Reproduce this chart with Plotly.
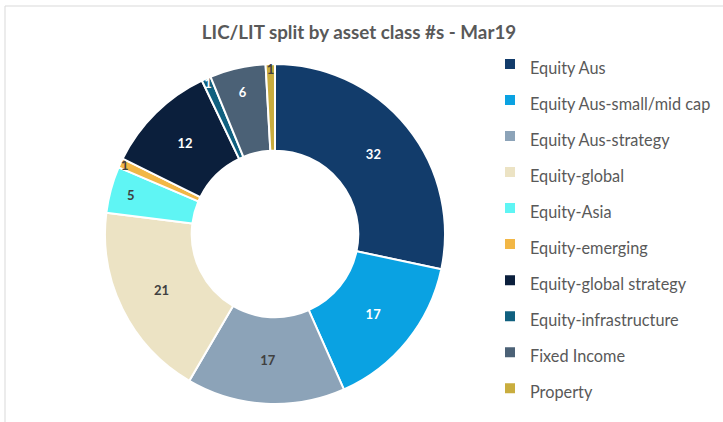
import plotly.graph_objects as go

labels = ["Equity Aus", "Equity Aus-small/mid cap", "Equity Aus-strategy", "Equity-global",
          "Equity-Asia", "Equity-emerging", "Equity-global strategy", "Equity-infrastructure",
          "Fixed Income", "Property"]
values = [32, 17, 17, 21, 5, 1, 12, 1, 6, 1]
colors = ["#123C6B", "#0AA2E2", "#8CA3B8", "#ECE3C4", "#5FF5F4", "#F2B746",
          "#0B1F3C", "#10607F", "#4B6176", "#C9AD3E"]
text_colors = ["#FFFFFF", "#FFFFFF", "#404040", "#404040", "#404040", "#404040",
               "#FFFFFF", "#FFFFFF", "#FFFFFF", "#404040"]

W, H = 723, 422
cx, cy, r = 275, 234, 170

legend_labels = ['<span style="font-size:16.3px">%s</span>' % l for l in labels]

fig = go.Figure(go.Pie(
    labels=legend_labels,
    values=values,
    hole=0.49,
    sort=False,
    direction="clockwise",
    rotation=0,
    marker=dict(colors=colors, line=dict(color="#FFFFFF", width=2)),
    textinfo="value",
    textposition="inside",
    insidetextorientation="horizontal",
    textfont=dict(family="Lato", size=13, color=text_colors, weight="bold"),
    domain=dict(x=[(cx - r) / W, (cx + r) / W], y=[1 - (cy + r) / H, 1 - (cy - r) / H]),
))

fig.update_layout(
    width=W, height=H,
    margin=dict(l=0, r=0, t=0, b=0),
    paper_bgcolor="#FFFFFF",
    title=dict(text="LIC/LIT split by asset class #s - Mar19", x=359 / W, xanchor="center",
               y=1 - 32 / H, yanchor="middle",
               font=dict(family="Lato", size=18.8, color="#595959", weight="bold")),
    uniformtext=dict(minsize=13, mode="show"),
    legend=dict(x=490 / W, y=1 - 41 / H, xanchor="left", yanchor="top",
                font=dict(family="Lato", size=25.4, color="#595959"),
                bgcolor="rgba(0,0,0,0)", itemclick=False),
    shapes=[dict(type="rect", xref="paper", yref="paper", x0=5 / W, x1=1.2, y0=-0.2, y1=1 - 6 / H,
                 line=dict(color="#D9D9D9", width=1), fillcolor="rgba(0,0,0,0)")],
)

fig.write_html("out.html", config={"displayModeBar": False},
               post_script="document.body.style.margin='0';")
